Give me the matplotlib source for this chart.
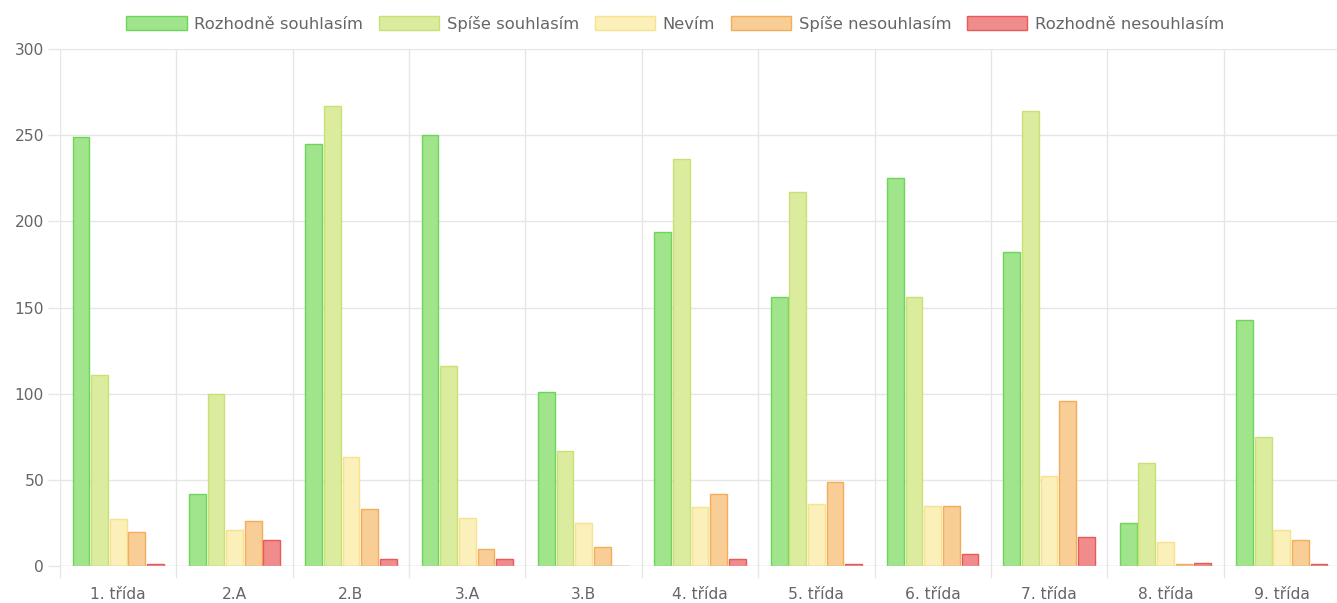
import numpy as np
import matplotlib.pyplot as plt

# categories (classes) and answer counts per series
classes = ['1. třída', '2.A', '2.B', '3.A', '3.B', '4. třída', '5. třída',
           '6. třída', '7. třída', '8. třída', '9. třída']
series_names = ['Rozhodně souhlasím', 'Spíše souhlasím', 'Nevím',
                'Spíše nesouhlasím', 'Rozhodně nesouhlasím']

rozhodne_souhlasim = [249, 42, 245, 250, 101, 194, 156, 225, 182, 25, 143]
spise_souhlasim = [111, 100, 267, 116, 67, 236, 217, 156, 264, 60, 75]
nevim = [27, 21, 63, 28, 25, 34, 36, 35, 52, 14, 21]
spise_nesouhlasim = [20, 26, 33, 10, 11, 42, 49, 35, 96, 1, 15]
rozhodne_nesouhlasim = [1, 15, 4, 4, 0, 4, 1, 7, 17, 2, 1]

all_series = [rozhodne_souhlasim, spise_souhlasim, nevim,
              spise_nesouhlasim, rozhodne_nesouhlasim]

fill_colors = ['#a0e48c', '#dcec9e', '#fbefba', '#f8cd96', '#f08c8c']
edge_colors = ['#6cd65a', '#c9e174', '#f7e290', '#f4ad58', '#e85a5a']

fig = plt.figure(figsize=(13.37, 6.03), dpi=100)
ax = fig.add_axes([60 / 1337, 37 / 603, 1280 / 1337, 517 / 603])

n = len(all_series)
x = np.arange(len(classes))
group_w = 0.8
slot = group_w / n
bar_w = slot * 0.9

for i, (vals, fc, ec, name) in enumerate(zip(all_series, fill_colors, edge_colors, series_names)):
    offs = -group_w / 2 + slot * (i + 0.5)
    ax.bar(x + offs, vals, width=bar_w, color=fc, edgecolor=ec,
           linewidth=1, label=name, zorder=3)

ax.set_xlim(-0.5, len(classes) - 0.5)
ax.set_ylim(0, 300)
ax.set_yticks(range(0, 301, 50))
ax.set_xticks(x)
ax.set_xticklabels(classes)

# grid lines like chart.js
for b in np.arange(-0.5, len(classes), 1.0):
    ax.axvline(b, color='#e6e6e6', linewidth=1, zorder=0)
for yv in range(50, 301, 50):
    ax.axhline(yv, color='#e6e6e6', linewidth=1, zorder=0)
ax.axhline(0, color='#c8c8c8', linewidth=1, zorder=4)

for s in ax.spines.values():
    s.set_visible(False)
ax.tick_params(axis='x', length=0, pad=15, labelsize=11.2, labelcolor='#666666')
ax.tick_params(axis='y', length=8.5, width=1, color='#e6e6e6', pad=3,
               labelsize=11.2, labelcolor='#666666')

# small tick marks below the axis at category boundaries
for b in np.arange(-0.5, len(classes), 1.0):
    ax.plot([b, b], [0, -6.5], color='#e6e6e6', linewidth=1, clip_on=False)

leg = fig.legend(loc='center', bbox_to_anchor=(0.505, 1 - 24 / 603), ncol=5,
                 frameon=False, fontsize=11.8, handlelength=3.7, handleheight=0.95,
                 columnspacing=0.95, handletextpad=0.45)
for t in leg.get_texts():
    t.set_color('#666666')

fig.savefig('out.png', dpi=100)
